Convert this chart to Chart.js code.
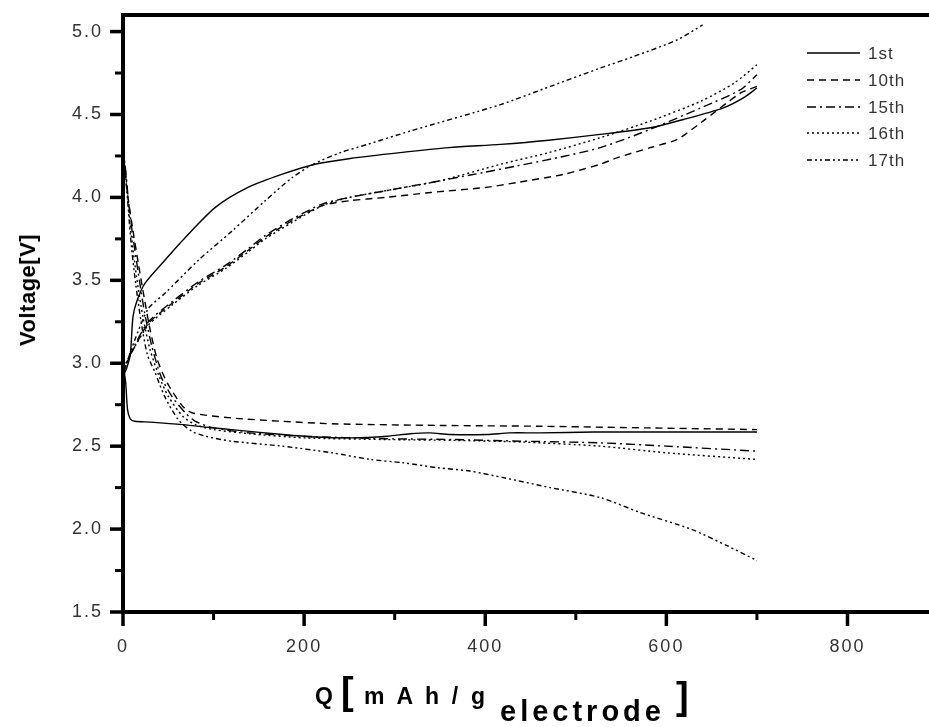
<!DOCTYPE html>
<html>
<head>
<meta charset="utf-8">
<script src="https://cdn.jsdelivr.net/npm/chart.js@4.4.1/dist/chart.umd.min.js"></script>
<style>
  html, body { margin: 0; padding: 0; background: #fff; }
  #wrap { position: relative; width: 929px; height: 727px; overflow: hidden; }
  #c { position: absolute; left: 0; top: 0; }
  #xtitle span { position: absolute; font-family: Arial, "Liberation Sans", sans-serif; font-weight: bold; color: #000; white-space: nowrap; line-height: 1; }
  #ytitle { position: absolute; left: 28px; top: 290px; transform: translate(-50%, -50%) rotate(-90deg); font-family: Arial, "Liberation Sans", sans-serif; font-weight: bold; font-size: 22px; color: #000; white-space: nowrap; letter-spacing: 0.5px; }
</style>
</head>
<body>
<div id="wrap">
  <canvas id="c" width="929" height="727"></canvas>
  <div id="ytitle">Voltage[V]</div>
  <div id="xtitle">
    <span style="left:315px; top:685px; font-size:23px;">Q</span>
    <span style="left:341px; top:672px; font-size:38px;">[</span>
    <span style="left:364px; top:685px; font-size:23px; letter-spacing:3.2px;">m A h / g</span>
    <span style="left:500px; top:697px; font-size:29px; letter-spacing:4px;">electrode</span>
    <span style="left:676px; top:677px; font-size:38px;">]</span>
  </div>
</div>
<script>
// ---- data ----
const cycleLabels = ['1st', '10th', '15th', '16th', '17th'];

// charge curves (Q in mAh/g, voltage in V)
const c1Q  = [0, 4, 8, 11, 15, 24, 46, 69, 102, 138, 176, 212, 251, 306, 360, 417, 470, 527, 582, 619, 663, 685, 700];
const c1V  = [2.92, 2.97, 3.05, 3.28, 3.37, 3.48, 3.62, 3.76, 3.94, 4.06, 4.14, 4.20, 4.235, 4.27, 4.30, 4.32, 4.345, 4.38, 4.42, 4.47, 4.54, 4.60, 4.66];

const c10Q = [0, 4, 13, 28, 54, 83, 113, 138, 157, 187, 220, 250, 290, 340, 400, 435, 487, 527, 546, 582, 612, 638, 682, 700];
const c10V = [2.93, 3.00, 3.10, 3.24, 3.36, 3.48, 3.58, 3.68, 3.76, 3.86, 3.95, 3.98, 4.00, 4.03, 4.06, 4.09, 4.14, 4.20, 4.24, 4.30, 4.35, 4.45, 4.63, 4.67];

const c15Q = [0, 4, 13, 28, 54, 83, 113, 138, 157, 187, 220, 250, 290, 340, 398, 435, 480, 527, 582, 638, 682, 700];
const c15V = [2.93, 3.00, 3.11, 3.25, 3.37, 3.49, 3.59, 3.69, 3.77, 3.87, 3.96, 4.00, 4.04, 4.09, 4.15, 4.19, 4.24, 4.30, 4.41, 4.54, 4.65, 4.74];

const c16Q = [0, 4, 13, 28, 54, 83, 113, 138, 157, 187, 220, 250, 300, 350, 417, 470, 527, 582, 638, 675, 700];
const c16V = [2.94, 3.01, 3.10, 3.23, 3.35, 3.47, 3.57, 3.67, 3.75, 3.85, 3.95, 4.00, 4.05, 4.10, 4.20, 4.27, 4.36, 4.46, 4.58, 4.69, 4.80];

const c17Q = [0, 4, 13, 28, 46, 83, 121, 157, 187, 210, 240, 270, 317, 417, 472, 527, 564, 612, 640];
const c17V = [2.93, 3.00, 3.14, 3.33, 3.42, 3.62, 3.80, 3.98, 4.12, 4.20, 4.27, 4.32, 4.40, 4.56, 4.67, 4.78, 4.85, 4.95, 5.04];

// discharge curves
const d1Q  = [0, 3, 5, 8, 13, 30, 66, 100, 120, 176, 212, 251, 292, 317, 339, 361, 402, 427, 460, 520, 600, 700];
const d1V  = [3.00, 2.88, 2.72, 2.665, 2.65, 2.645, 2.63, 2.61, 2.60, 2.57, 2.555, 2.55, 2.56, 2.575, 2.58, 2.57, 2.57, 2.58, 2.58, 2.585, 2.585, 2.585];

const d10Q = [0, 2, 5, 11, 17, 22, 30, 38, 49, 66, 77, 120, 176, 231, 350, 460, 580, 700];
const d10V = [4.30, 4.18, 4.02, 3.80, 3.60, 3.44, 3.20, 3.02, 2.88, 2.74, 2.70, 2.67, 2.65, 2.635, 2.625, 2.62, 2.61, 2.60];

const d15Q = [0, 3, 6, 10, 17, 24, 32, 42, 54, 69, 80, 100, 140, 200, 290, 365, 440, 527, 600, 700];
const d15V = [4.30, 4.16, 3.98, 3.80, 3.54, 3.30, 3.10, 2.92, 2.80, 2.70, 2.65, 2.61, 2.58, 2.56, 2.545, 2.54, 2.53, 2.52, 2.50, 2.47];

const d16Q = [0, 3, 6, 9, 15, 22, 30, 40, 50, 66, 80, 100, 140, 200, 290, 365, 440, 527, 600, 700];
const d16V = [4.28, 4.14, 3.95, 3.78, 3.52, 3.28, 3.08, 2.92, 2.80, 2.68, 2.63, 2.60, 2.575, 2.55, 2.54, 2.535, 2.525, 2.50, 2.46, 2.42];

const d17Q = [0, 3, 6, 9, 14, 20, 27, 35, 46, 61, 76, 91, 120, 176, 231, 273, 309, 347, 383, 420, 472, 527, 571, 627, 667, 700];
const d17V = [4.30, 4.12, 3.92, 3.72, 3.48, 3.25, 3.05, 2.95, 2.80, 2.66, 2.59, 2.56, 2.53, 2.50, 2.46, 2.42, 2.40, 2.37, 2.35, 2.31, 2.25, 2.19, 2.10, 2.00, 1.90, 1.81];

const xTicksMajor = [0, 200, 400, 600, 800];
const yTicksMajor = [1.5, 2.0, 2.5, 3.0, 3.5, 4.0, 4.5, 5.0];

// ---- styles per cycle ----
const dashes = [[], [7, 5], [9, 4, 2, 4], [2, 3], [5, 3, 2, 3, 2, 3]];

function pts(q, v) { return q.map((x, i) => ({ x: x, y: v[i] })); }

const charge = [[c1Q, c1V], [c10Q, c10V], [c15Q, c15V], [c16Q, c16V], [c17Q, c17V]];
const discharge = [[d1Q, d1V], [d10Q, d10V], [d15Q, d15V], [d16Q, d16V], [d17Q, d17V]];

const datasets = [];
cycleLabels.forEach((lab, i) => {
  [charge[i], discharge[i]].forEach((cur) => {
    datasets.push({
      label: lab,
      data: pts(cur[0], cur[1]),
      showLine: true,
      borderColor: '#000',
      borderWidth: 1.4,
      borderDash: dashes[i],
      pointRadius: 0,
      tension: 0.25,
      fill: false
    });
  });
});

const AXW = 4;

const spacingPlugin = {
  id: 'spacing',
  beforeDraw(chart) { chart.ctx.letterSpacing = '2px'; },
  afterDraw(chart) { chart.ctx.letterSpacing = '0px'; }
};

const framePlugin = {
  id: 'frame',
  afterDraw(chart) {
    const ctx = chart.ctx;
    const a = chart.chartArea;
    const xs = chart.scales.x, ys = chart.scales.y;
    ctx.save();
    ctx.strokeStyle = '#000';
    ctx.lineCap = 'butt';
    // top border
    ctx.lineWidth = AXW;
    ctx.beginPath();
    ctx.moveTo(a.left - 2, a.top);
    ctx.lineTo(a.right, a.top);
    ctx.stroke();
    // y ticks
    for (let v = 1.5; v <= 5.0001; v += 0.25) {
      const y = ys.getPixelForValue(v);
      const major = yTicksMajor.some(t => Math.abs(t - v) < 1e-6);
      ctx.lineWidth = major ? 3.5 : 3;
      ctx.beginPath();
      ctx.moveTo(a.left, y);
      ctx.lineTo(a.left - (major ? 13 : 8), y);
      ctx.stroke();
    }
    // x ticks
    for (let v = 0; v <= 800; v += 100) {
      const x = xs.getPixelForValue(v);
      const major = xTicksMajor.includes(v);
      ctx.lineWidth = major ? 3.5 : 3;
      ctx.beginPath();
      ctx.moveTo(x, a.bottom);
      ctx.lineTo(x, a.bottom + (major ? 14 : 8));
      ctx.stroke();
    }
    // legend
    const lx0 = 807, lx1 = 860, tx = 868;
    const rows = [53, 80, 107, 133, 160];
    ctx.font = '17px Arial, "Liberation Sans", sans-serif';
    ctx.letterSpacing = '1px';
    ctx.fillStyle = '#333';
    ctx.textBaseline = 'middle';
    ctx.textAlign = 'left';
    cycleLabels.forEach((lab, i) => {
      const y = rows[i];
      ctx.lineWidth = 1.4;
      ctx.setLineDash(dashes[i]);
      ctx.beginPath();
      ctx.moveTo(lx0, y);
      ctx.lineTo(lx1, y);
      ctx.stroke();
      ctx.setLineDash([]);
      ctx.fillText(lab, tx, y + 1);
    });
    ctx.restore();
  }
};

function zeroPad(s) { s.paddingTop = 0; s.paddingBottom = 0; s.paddingLeft = 0; s.paddingRight = 0; }

new Chart(document.getElementById('c'), {
  type: 'scatter',
  data: { datasets: datasets },
  options: {
    responsive: false,
    animation: false,
    layout: { padding: { top: 15, right: 0, left: 0, bottom: 0 } },
    plugins: { legend: { display: false }, tooltip: { enabled: false } },
    scales: {
      x: {
        type: 'linear',
        min: 0, max: 890,
        afterFit(s) { s.height = 115; zeroPad(s); },
        border: { display: true, color: '#000', width: AXW },
        grid: { display: true, drawOnChartArea: false, drawTicks: false, color: 'rgba(0,0,0,0)' },
        ticks: {
          stepSize: 200,
          includeBounds: false,
          autoSkip: false,
          maxRotation: 0,
          padding: 24,
          color: '#333',
          font: { family: 'Arial, "Liberation Sans", sans-serif', size: 18 },
          callback: v => xTicksMajor.includes(v) ? String(v) : ''
        }
      },
      y: {
        type: 'linear',
        min: 1.5, max: 5.1,
        afterFit(s) { s.width = 123; zeroPad(s); },
        border: { display: true, color: '#000', width: AXW },
        grid: { display: true, drawOnChartArea: false, drawTicks: false, color: 'rgba(0,0,0,0)' },
        ticks: {
          stepSize: 0.5,
          includeBounds: false,
          autoSkip: false,
          padding: 20,
          color: '#333',
          font: { family: 'Arial, "Liberation Sans", sans-serif', size: 18 },
          callback: v => v.toFixed(1)
        }
      }
    }
  },
  plugins: [spacingPlugin, framePlugin]
});
</script>
</body>
</html>
